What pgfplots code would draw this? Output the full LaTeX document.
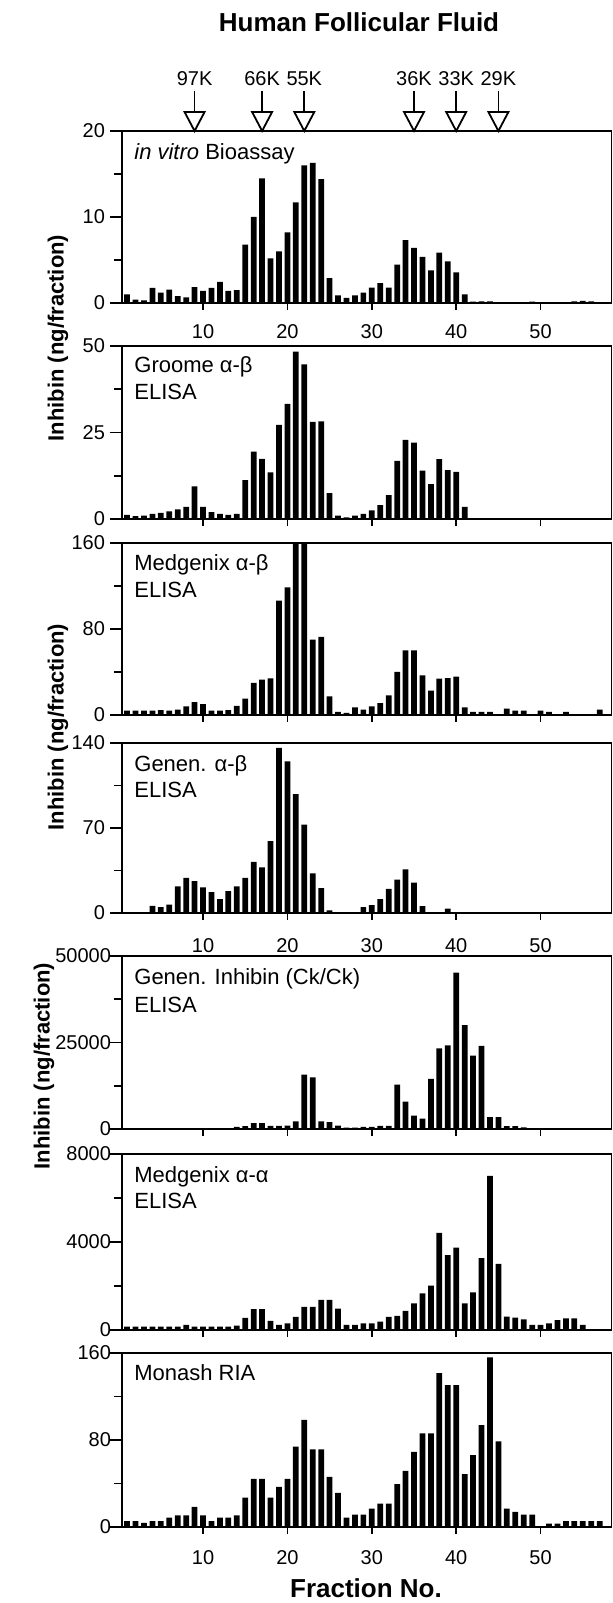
\documentclass[border=0pt]{standalone}
\usepackage{pgfplots}
\pgfplotsset{compat=1.18}
\usepackage{fontspec}
\setmainfont{Liberation Sans}

\pgfplotsset{
  panel/.style={
    scale only axis, width=244.75pt,
    xmin=0.4, xmax=58.4, ymin=0,
    ybar, bar width=0.68,
    axis line style={line width=0.9pt},
    tick align=outside,
    tick pos=left,
    xtick={10,20,30,40,50},
    major tick length=6pt, minor tick length=4pt,
    xtick style={/pgfplots/major tick length=3.5pt, line width=0.8pt, black},
    ytick style={line width=0.8pt, black},
    minor tick style={line width=0.8pt, black},
    tick label style={font=\fontsize{10}{12}\selectfont},
    yticklabel style={xshift=1pt},
    /pgf/number format/assume math mode=true,
    /pgf/number format/1000 sep={},
    scaled y ticks=false,
    anchor=south west,
  },
  lower/.style={yticklabel style={xshift=3pt}},
  nolab/.style={xticklabels={}},
  bars/.style={fill=black, draw=none},
}
\newcommand{\plab}[2]{\node[anchor=base west, inner sep=0pt, font=\fontsize{11}{13}\selectfont] at (rel axis cs:0,1) [xshift=6pt, yshift=-#1] {#2};}
\newcommand{\mwarrow}[2]{%
  \draw[line width=0.9pt] (axis cs:#1,20) ++(0pt,9.5pt) -- ++(0pt,10.5pt);
  \draw[line width=0.9pt, fill=white] (axis cs:#1,20) -- ++(-5pt,9.5pt) -- ++(10pt,0pt) -- cycle;
  \node[font=\fontsize{10}{12}\selectfont, inner sep=0pt] at (axis cs:#1,20) [yshift=26pt] {#2};}

\begin{document}
\begin{tikzpicture}
\path[use as bounding box] (0,0) rectangle (306.5pt,801.5pt);

% Panel 1
\begin{axis}[panel, at={(61pt,650pt)}, height=86pt, ymax=20, ytick={0,10,20}, minor ytick={5,15}, clip=false,
  xticklabel style={yshift=-1pt}]
\addplot[bars] coordinates {(1,1.0)(2,0.4)(3,0.3)(4,1.75)(5,1.2)(6,1.55)(7,0.8)(8,0.65)(9,1.85)(10,1.4)
(11,1.75)(12,2.45)(13,1.4)(14,1.5)(15,6.8)(16,10.0)(17,14.5)(18,5.2)(19,6.0)(20,8.2)
(21,11.7)(22,16.0)(23,16.3)(24,14.4)(25,2.9)(26,0.9)(27,0.6)(28,0.9)(29,1.2)(30,1.8)
(31,2.3)(32,1.8)(33,4.45)(34,7.3)(35,6.4)(36,5.35)(37,3.8)(38,5.85)(39,4.85)(40,3.55)
(41,1.0)(42,0.15)(43,0.2)(44,0.2)(45,0.1)(46,0.1)(47,0.1)(48,0.1)(49,0.15)(50,0.1)
(51,0.1)(52,0.1)(53,0.1)(54,0.2)(55,0.25)(56,0.2)(57,0.1)};
\node[anchor=base west, inner sep=0pt, font=\fontsize{11}{13}\selectfont] at (rel axis cs:0,1) [xshift=6pt, yshift=-14.4pt] {\textit{in vitro} Bioassay};
\mwarrow{9}{97K}
\mwarrow{17}{66K}
\mwarrow{22}{55K}
\mwarrow{35}{36K}
\mwarrow{40}{33K}
\mwarrow{45}{29K}
\end{axis}

% Panel 2
\begin{axis}[panel, nolab, at={(61pt,542pt)}, height=86.5pt, ymax=50, ytick={0,25,50}, minor ytick={12.5,37.5}]
\addplot[bars] coordinates {(1,1.2)(2,0.8)(3,1.0)(4,1.5)(5,1.8)(6,2.2)(7,2.8)(8,3.5)(9,9.4)(10,3.5)
(11,2.0)(12,1.5)(13,1.2)(14,1.5)(15,11.2)(16,19.5)(17,17.4)(18,13.5)(19,27.2)(20,33.3)
(21,48.4)(22,44.7)(23,28.1)(24,28.2)(25,7.5)(26,1.0)(27,0.5)(28,1.0)(29,1.5)(30,2.5)
(31,4.0)(32,6.9)(33,16.8)(34,22.9)(35,22.1)(36,14.0)(37,10.1)(38,17.3)(39,14.1)(40,13.6)
(41,3.5)};
\plab{13.5pt}{Groome α-β}
\plab{26.9pt}{ELISA}
\end{axis}

% Panel 3
\begin{axis}[panel, nolab, at={(61pt,444pt)}, height=86pt, ymax=160, ytick={0,80,160}, minor ytick={40,120}]
\addplot[bars] coordinates {(1,4)(2,4)(3,4)(4,4)(5,4.5)(6,4)(7,5)(8,8)(9,12)(10,10)
(11,4)(12,4)(13,4.5)(14,8.5)(15,15.2)(16,29.8)(17,32.9)(18,34.1)(19,106.4)(20,118.8)
(21,175)(22,175)(23,70)(24,72.6)(25,17.4)(26,3)(27,2)(28,7)(29,5)(30,8)
(31,11)(32,18.3)(33,40)(34,60.2)(35,60.2)(36,36.9)(37,22.6)(38,33.8)(39,34.4)(40,35.7)
(41,7)(42,3)(43,3)(44,3)(46,6)(47,4)(48,4)(50,4)(51,3)(53,3)(57,5)};
\plab{14pt}{Medgenix α-β}
\plab{27.5pt}{ELISA}
\end{axis}

% Panel 4
\begin{axis}[panel, at={(61pt,345pt)}, height=85pt, ymax=140, ytick={0,70,140}, minor ytick={35,105},
  xticklabel style={yshift=-3pt}]
\addplot[bars] coordinates {(4,5.9)(5,4.9)(6,6.8)(7,22)(8,28.9)(9,26.2)(10,21)
(11,17.2)(12,11.4)(13,18)(14,22)(15,28.9)(16,42.2)(17,37.6)(18,59.1)(19,136)(20,124.8)
(21,97.8)(22,72.8)(23,32.7)(24,20.4)(25,2.2)(29,4.9)(30,6.5)
(31,11.4)(32,19.9)(33,27.5)(34,36)(35,25)(36,5.7)(39,3.5)};
\plab{14.4pt}{Genen. α-β}
\plab{27.4pt}{ELISA}
\end{axis}

% Panel 5
\begin{axis}[panel, lower, nolab, at={(61pt,237pt)}, height=86.5pt, ymax=50000, ytick={0,25000,50000}, minor ytick={12500,37500}]
\addplot[bars] coordinates {(1,100)(2,100)(3,100)(4,100)(5,100)(6,100)(7,100)(8,100)(9,100)(10,100)
(11,100)(12,100)(13,200)(14,600)(15,800)(16,1700)(17,1700)(18,900)(19,900)(20,1000)
(21,2200)(22,15700)(23,14900)(24,2200)(25,2000)(26,1000)(27,400)(28,400)(29,600)(30,600)
(31,900)(32,900)(33,12800)(34,7900)(35,3900)(36,3000)(37,14500)(38,23300)(39,24200)(40,45200)
(41,30000)(42,21200)(43,24000)(44,3400)(45,3400)(46,800)(47,800)(48,500)(49,200)(50,200)
(51,200)(52,200)(53,200)(54,200)(55,200)(56,200)(57,200)};
\plab{14.4pt}{Genen. Inhibin (Ck/Ck)}
\plab{28.5pt}{ELISA}
\end{axis}

% Panel 6
\begin{axis}[panel, lower, nolab, at={(61pt,136.5pt)}, height=88pt, ymax=8000, ytick={0,4000,8000}, minor ytick={2000,6000}]
\addplot[bars] coordinates {(1,150)(2,150)(3,150)(4,150)(5,150)(6,150)(7,150)(8,230)(9,150)(10,150)
(11,150)(12,150)(13,150)(14,200)(15,550)(16,947)(17,947)(18,420)(19,230)(20,300)
(21,600)(22,1053)(23,1053)(24,1374)(25,1374)(26,977)(27,230)(28,230)(29,300)(30,300)
(31,380)(32,600)(33,641)(34,870)(35,1206)(36,1664)(37,2015)(38,4412)(39,3405)(40,3740)
(41,1206)(42,1710)(43,3267)(44,7008)(45,3008)(46,611)(47,565)(48,480)(49,230)(50,230)
(51,300)(52,450)(53,530)(54,530)(55,230)};
\plab{14.4pt}{Medgenix α-α}
\plab{27.5pt}{ELISA}
\end{axis}

% Panel 7
\begin{axis}[panel, lower, at={(61pt,38pt)}, height=87pt, ymax=160, ytick={0,80,160}, minor ytick={40,120},
  xticklabel style={yshift=-2pt}]
\addplot[bars] coordinates {(1,5.5)(2,5.5)(3,3.7)(4,5.5)(5,5.5)(6,8.6)(7,10.8)(8,10.8)(9,18.5)(10,10.8)
(11,5.5)(12,8.6)(13,8.6)(14,10.8)(15,27)(16,44.3)(17,44.3)(18,27)(19,37)(20,44.3)
(21,73.8)(22,98.5)(23,71.4)(24,71.4)(25,46)(26,31.4)(27,8.6)(28,11.4)(29,11.4)(30,17)
(31,21.5)(32,21.5)(33,39.4)(34,51.7)(35,69)(36,86)(37,86)(38,141.5)(39,130.5)(40,130.5)
(41,48.6)(42,66)(43,93.6)(44,156)(45,78.8)(46,17)(47,14)(48,11.4)(49,11.4)
(51,3)(52,3)(53,5.5)(54,5.5)(55,5.5)(56,5.5)(57,5.5)};
\plab{13.7pt}{Monash RIA}
\end{axis}

% titles and shared labels
\node[font=\bfseries\fontsize{13}{15}\selectfont] at (179.5pt,790.5pt) {Human Follicular Fluid};
\node[font=\bfseries\fontsize{13}{15}\selectfont] at (183pt,7.5pt) {Fraction No.};
\node[rotate=90, font=\bfseries\fontsize{11}{13}\selectfont] at (29pt,632.5pt) {Inhibin (ng/fraction)};
\node[rotate=90, font=\bfseries\fontsize{11}{13}\selectfont] at (29pt,438pt) {Inhibin (ng/fraction)};
\node[rotate=90, font=\bfseries\fontsize{11}{13}\selectfont] at (22pt,268.5pt) {Inhibin (ng/fraction)};
\end{tikzpicture}
\end{document}
